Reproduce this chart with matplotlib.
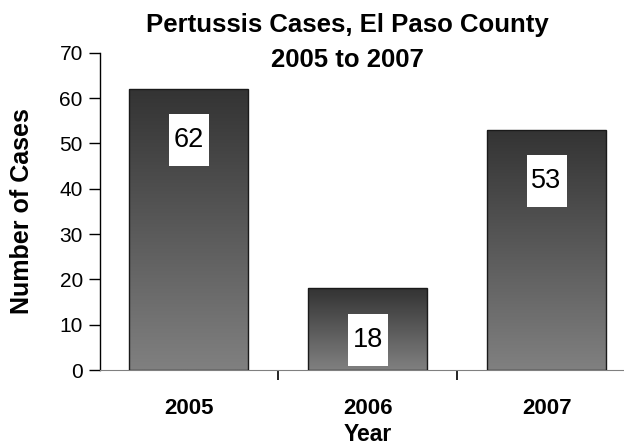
import matplotlib
matplotlib.use('Agg')
import matplotlib.pyplot as plt
import numpy as np
from matplotlib.colors import LinearSegmentedColormap
from matplotlib.path import Path

plt.rcParams['font.family'] = ['Liberation Sans', 'DejaVu Sans']

years = ['2005', '2006', '2007']
cases = [62, 18, 53]

title_line1 = 'Pertussis Cases, El Paso County'
title_line2 = '2005 to 2007'

fig = plt.figure(figsize=(6.24, 4.46), dpi=100)
ax = fig.add_axes([99.5 / 624, 1 - 370 / 446, 536.5 / 624, 317.3 / 446])

x = np.arange(len(years))
bars = ax.bar(x, cases, width=0.665, color='none', edgecolor='#1a1a1a', linewidth=1.0, zorder=3)

# vertical gradient inside each bar: dark on top, lighter gray at bottom
cmap = LinearSegmentedColormap.from_list('bargrad', ['#808080', '#333333'])
grad = np.linspace(0, 1, 256).reshape(-1, 1)
for b in bars:
    x0, y0 = b.get_x(), b.get_y()
    w, h = b.get_width(), b.get_height()
    im = ax.imshow(grad, cmap=cmap, aspect='auto', origin='lower',
                   extent=[x0, x0 + w, y0, y0 + h], zorder=2, interpolation='bilinear')
    im.set_clip_path(b)

# tall white label boxes (41 x 53 px), drawn as a rectangular marker
box = Path([(-20.5, -26.5), (20.5, -26.5), (20.5, 26.5), (-20.5, 26.5), (-20.5, -26.5)],
           [Path.MOVETO, Path.LINETO, Path.LINETO, Path.LINETO, Path.CLOSEPOLY])
for xi, v in zip(x, cases):
    yc = v - 11.3
    ax.plot(xi, yc, marker=box, markersize=53 * 72 / 100, color='white',
            markeredgewidth=0, linestyle='none', zorder=4)
    ax.text(xi, yc, str(v), ha='center', va='center', fontsize=19.5, zorder=5)

ax.set_xlim(-0.5, 2.5)
ax.set_ylim(0, 70)
ax.set_yticks(range(0, 71, 10))
ax.tick_params(axis='y', direction='out', length=8, width=1, labelsize=15, pad=4)

ax.set_xticks(x)
ax.set_xticklabels(years, fontsize=16, fontweight='bold')
ax.tick_params(axis='x', which='major', length=0, pad=20)
ax.set_xticks([0.5, 1.5], minor=True)
ax.tick_params(axis='x', which='minor', direction='out', length=7, width=1.2, color='black')

ax.spines['top'].set_visible(False)
ax.spines['right'].set_visible(False)
ax.spines['bottom'].set_color('#808080')
ax.spines['left'].set_linewidth(1.0)

ax.set_ylabel('Number of Cases', fontsize=18, fontweight='bold', va='center')
ax.yaxis.set_label_coords(-0.1445, 0.5)
ax.set_xlabel('Year', fontsize=16.5, fontweight='bold', va='center')
ax.xaxis.set_label_coords(0.5, -0.202)

fig.text(347 / 624, 1 - 25 / 446, title_line1, ha='center', va='center', fontsize=18.5, fontweight='bold')
fig.text(347 / 624, 1 - 60 / 446, title_line2, ha='center', va='center', fontsize=18.5, fontweight='bold')

fig.savefig('out.png', dpi=100)
